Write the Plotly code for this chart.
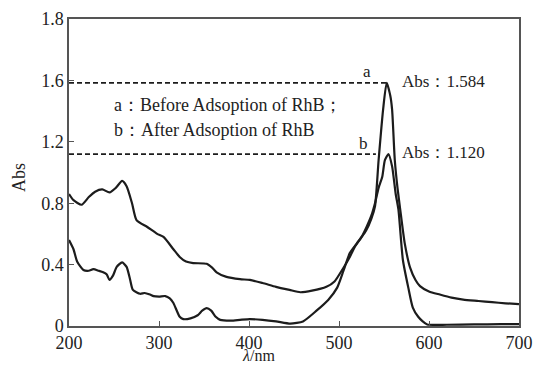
import plotly.graph_objects as go

# Curve a: before adsorption of RhB
wl_a = [200, 205, 214, 222, 229, 237, 245, 252, 259, 264, 270, 275, 287, 298, 305, 316, 323, 330, 338,
        353, 359, 364, 375, 390, 401, 415, 430, 445, 457, 470, 486, 495, 504, 512, 518, 524, 530, 536,
        540, 544, 549, 553, 557, 559, 562, 565, 568, 573, 579, 585, 590, 600, 612, 625, 638, 655, 670,
        685, 700]
abs_a = [0.86, 0.82, 0.79, 0.84, 0.875, 0.89, 0.87, 0.90, 0.945, 0.91, 0.80, 0.69, 0.645, 0.60, 0.58,
         0.50, 0.45, 0.42, 0.41, 0.405, 0.38, 0.35, 0.32, 0.305, 0.30, 0.28, 0.255, 0.235, 0.22, 0.23,
         0.255, 0.29, 0.37, 0.45, 0.52, 0.57, 0.62, 0.70, 0.78, 1.08, 1.41, 1.584, 1.50, 1.41, 1.08,
         0.90, 0.76, 0.54, 0.38, 0.30, 0.26, 0.225, 0.205, 0.185, 0.172, 0.163, 0.155, 0.148, 0.143]

# Curve b: after adsorption of RhB
wl_b = [200, 205, 209, 216, 222, 227, 233, 238, 242, 245, 249, 253, 259, 264, 268, 271, 279, 284, 290,
        294, 300, 307, 312, 316, 323, 327, 335, 343, 348, 353, 358, 363, 368, 380, 390, 401, 415, 430,
        446, 460, 475, 488, 498, 505, 512, 520, 526, 531, 536, 540, 544, 548, 551, 555, 559, 563, 566,
        571, 577, 582, 588, 593, 598, 620, 650, 680, 700]
abs_b = [0.56, 0.50, 0.42, 0.365, 0.36, 0.37, 0.36, 0.35, 0.335, 0.30, 0.33, 0.385, 0.415, 0.385, 0.30,
         0.235, 0.21, 0.215, 0.205, 0.195, 0.192, 0.195, 0.18, 0.15, 0.06, 0.045, 0.05, 0.07, 0.10,
         0.117, 0.10, 0.06, 0.04, 0.035, 0.04, 0.045, 0.04, 0.03, 0.015, 0.03, 0.10, 0.17, 0.25, 0.36,
         0.475, 0.54, 0.59, 0.65, 0.72, 0.80, 0.90, 0.97, 1.08, 1.12, 1.04, 0.86, 0.76, 0.43, 0.25,
         0.12, 0.06, 0.03, 0.01, 0.008, 0.01, 0.012, 0.012]

# Peak markers
peak_labels = ["a", "b"]
peak_values = [1.584, 1.120]
dash_end_wl = [553, 541]
legend_lines = ["a：Before Adsoption of RhB；", "b：After Adsoption of RhB"]

# Axis ticks (the printed top tick reads 1.8)
x_ticks = [200, 300, 400, 500, 600, 700]
y_tickvals = [0, 0.4, 0.8, 1.2, 1.6, 2.0]
y_ticktext = ["0", "0.4", "0.8", "1.2", "1.6", "1.8"]

FONT = "Liberation Serif"
LINE = "#1c1c1c"
TXT = "#222"

fig = go.Figure()
fig.add_trace(go.Scatter(x=wl_a, y=abs_a, mode="lines",
                         line=dict(color=LINE, width=2.2, shape="spline", smoothing=0.6)))
fig.add_trace(go.Scatter(x=wl_b, y=abs_b, mode="lines",
                         line=dict(color=LINE, width=2.2, shape="spline", smoothing=0.6)))
for v, xe in zip(peak_values, dash_end_wl):
    fig.add_trace(go.Scatter(x=[200, xe], y=[v, v], mode="lines",
                             line=dict(color=LINE, width=1.6, dash="5px,3px")))

anns = []
label_pos = [(531, 0.075), (527, 0.07)]
for lab, v, (lx, dy) in zip(peak_labels, peak_values, label_pos):
    anns.append(dict(x=lx, y=v + dy, text=lab, showarrow=False, xanchor="center", yanchor="middle",
                     font=dict(family=FONT, size=17, color=TXT)))
    anns.append(dict(x=568, y=v + 0.01, text="Abs：" + f"{v:.3f}",
                     showarrow=False, xanchor="left", yanchor="middle",
                     font=dict(family=FONT, size=17, color=TXT)))
for i, t in enumerate(legend_lines):
    anns.append(dict(x=248, y=1.44 - i * 0.163, text=t, showarrow=False, xanchor="left", yanchor="middle",
                     font=dict(family=FONT, size=18, color=TXT)))
anns.append(dict(x=(258 - 69) / 450, y=(326 - 355) / 307, xref="paper", yref="paper", text="<i>λ</i>/nm",
                 showarrow=False, xanchor="center", yanchor="middle",
                 font=dict(family=FONT, size=16, color=TXT)))
anns.append(dict(x=(19 - 69) / 450, y=(326 - 178) / 307, xref="paper", yref="paper", text="Abs",
                 showarrow=False, textangle=-90, xanchor="center", yanchor="middle",
                 font=dict(family=FONT, size=18, color=TXT)))

fig.update_layout(
    width=534, height=365,
    margin=dict(l=69, r=15, t=19, b=39, autoexpand=False),
    paper_bgcolor="white", plot_bgcolor="white",
    showlegend=False,
    annotations=anns,
    font=dict(family=FONT, size=18, color=TXT),
)
fig.update_xaxes(range=[200, 700], tickvals=x_ticks, ticks="inside", ticklen=5, tickcolor="#555",
                 showline=True, linecolor="#555", linewidth=1.5, mirror=True, showgrid=False,
                 zeroline=False, automargin=False, tickfont=dict(family=FONT, size=18, color=TXT))
fig.update_yaxes(range=[0, 2.0], tickvals=y_tickvals, ticktext=y_ticktext, ticks="inside", ticklen=5,
                 tickcolor="#555", showline=True, linecolor="#555", linewidth=1.5, mirror=True,
                 showgrid=False, zeroline=False, automargin=False,
                 tickfont=dict(family=FONT, size=18, color=TXT))

fig.write_html("out.html")
